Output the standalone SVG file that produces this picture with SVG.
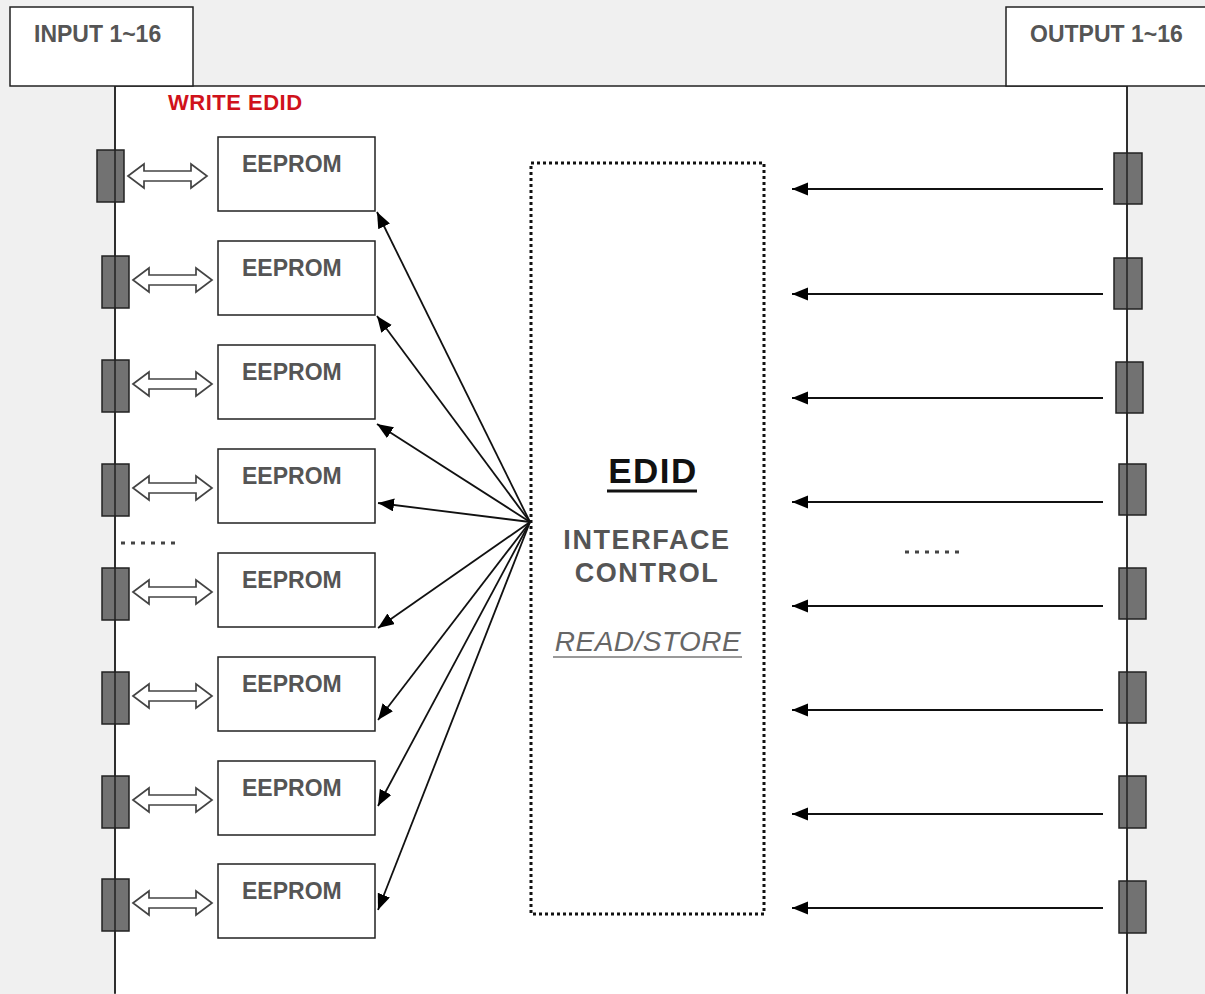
<svg xmlns="http://www.w3.org/2000/svg" width="1205" height="994" viewBox="0 0 1205 994">
<style>
.box{fill:#fff;stroke:#222;stroke-width:1.5}
.port{fill:#727272;stroke:#222;stroke-width:1.5}
.lbl{font-family:"Liberation Sans",Arial,sans-serif;font-weight:bold;fill:#555}
.eep{font-family:"Liberation Sans",Arial,sans-serif;font-weight:bold;fill:#555;font-size:23px}
.dbl{fill:#fff;stroke:#444;stroke-width:1.7}
.con{stroke:#111;stroke-width:1.8;fill:none}
</style>
<defs>
<marker id="ah" markerUnits="userSpaceOnUse" markerWidth="17" markerHeight="14" refX="16" refY="6.5" orient="auto">
<path d="M0,0 L16,6.5 L0,13 Z" fill="#000"/>
</marker>
<path id="dbla" d="M0,0 L16,-12 L16,-5 L63,-5 L63,-12 L79,0 L63,12 L63,5 L16,5 L16,12 Z"/>
</defs>
<rect x="0" y="0" width="1205" height="994" fill="#f0f0f0"/>
<rect id="main" x="115" y="86" width="1012" height="920" fill="#fff" stroke="#222" stroke-width="1.5"/>
<g id="input-box"><rect class="box" x="10" y="7" width="183" height="79"/><text class="lbl" x="34" y="42" font-size="23">INPUT 1~16</text></g>
<g id="output-box"><rect class="box" x="1006" y="7" width="210" height="79"/><text class="lbl" x="1030" y="42" font-size="23">OUTPUT 1~16</text></g>
<text id="write-edid" x="168" y="110" font-family="Liberation Sans, Arial, sans-serif" font-weight="bold" font-size="22" letter-spacing="0.5" fill="#d0121b">WRITE EDID</text>

<g id="eeproms">
<g id="e1"><rect class="box" x="218" y="137" width="157" height="74"/><text class="eep" x="242" y="172">EEPROM</text></g>
<g id="e2"><rect class="box" x="218" y="241" width="157" height="74"/><text class="eep" x="242" y="276">EEPROM</text></g>
<g id="e3"><rect class="box" x="218" y="345" width="157" height="74"/><text class="eep" x="242" y="380">EEPROM</text></g>
<g id="e4"><rect class="box" x="218" y="449" width="157" height="74"/><text class="eep" x="242" y="484">EEPROM</text></g>
<g id="e5"><rect class="box" x="218" y="553" width="157" height="74"/><text class="eep" x="242" y="588">EEPROM</text></g>
<g id="e6"><rect class="box" x="218" y="657" width="157" height="74"/><text class="eep" x="242" y="692">EEPROM</text></g>
<g id="e7"><rect class="box" x="218" y="761" width="157" height="74"/><text class="eep" x="242" y="796">EEPROM</text></g>
<g id="e8"><rect class="box" x="218" y="864" width="157" height="74"/><text class="eep" x="242" y="899">EEPROM</text></g>
</g>

<g id="input-ports">
<rect class="port" x="97" y="150" width="27" height="52"/>
<rect class="port" x="102" y="256" width="27" height="52"/>
<rect class="port" x="102" y="360" width="27" height="52"/>
<rect class="port" x="102" y="464" width="27" height="52"/>
<rect class="port" x="102" y="568" width="27" height="52"/>
<rect class="port" x="102" y="672" width="27" height="52"/>
<rect class="port" x="102" y="776" width="27" height="52"/>
<rect class="port" x="102" y="879" width="27" height="52"/>
<line x1="115" y1="86" x2="115" y2="993" stroke="#222" stroke-width="1.5"/>
</g>

<g id="output-ports">
<rect class="port" x="1114" y="153" width="28" height="51"/>
<rect class="port" x="1114" y="258" width="28" height="51"/>
<rect class="port" x="1116" y="362" width="27" height="51"/>
<rect class="port" x="1119" y="464" width="27" height="51"/>
<rect class="port" x="1119" y="568" width="27" height="51"/>
<rect class="port" x="1119" y="672" width="27" height="51"/>
<rect class="port" x="1119" y="776" width="27" height="52"/>
<rect class="port" x="1119" y="881" width="27" height="52"/>
<line x1="1127" y1="86" x2="1127" y2="993" stroke="#222" stroke-width="1.5"/>
</g>

<g id="edid-control">
<rect x="531" y="163" width="233" height="751" fill="none" stroke="#111" stroke-width="3" stroke-dasharray="3 3"/>
<text x="653" y="483" text-anchor="middle" font-family="Liberation Sans, Arial, sans-serif" font-weight="bold" font-size="35" letter-spacing="1.5" fill="#111">EDID</text>
<line x1="607" y1="491" x2="697" y2="491" stroke="#111" stroke-width="3"/>
<text x="647" y="549" text-anchor="middle" font-family="Liberation Sans, Arial, sans-serif" font-weight="bold" font-size="27" letter-spacing="1.6" fill="#555">INTERFACE</text>
<text x="647" y="582" text-anchor="middle" font-family="Liberation Sans, Arial, sans-serif" font-weight="bold" font-size="27" letter-spacing="1.6" fill="#555">CONTROL</text>
<text x="648" y="651" text-anchor="middle" font-family="Liberation Sans, Arial, sans-serif" font-style="italic" font-size="28" letter-spacing="0.5" fill="#666">READ/STORE</text>
<line x1="553" y1="657" x2="742" y2="657" stroke="#777" stroke-width="1.5"/>
</g>

<g id="connectors">
<use href="#dbla" class="dbl" x="128" y="176"/>
<use href="#dbla" class="dbl" x="133" y="280"/>
<use href="#dbla" class="dbl" x="133" y="384"/>
<use href="#dbla" class="dbl" x="133" y="488"/>
<use href="#dbla" class="dbl" x="133" y="592"/>
<use href="#dbla" class="dbl" x="133" y="696"/>
<use href="#dbla" class="dbl" x="133" y="800"/>
<use href="#dbla" class="dbl" x="133" y="903"/>
<line class="con" x1="530" y1="522" x2="377" y2="212" marker-end="url(#ah)"/>
<line class="con" x1="530" y1="522" x2="377" y2="316" marker-end="url(#ah)"/>
<line class="con" x1="530" y1="522" x2="377" y2="424" marker-end="url(#ah)"/>
<line class="con" x1="530" y1="522" x2="378" y2="503" marker-end="url(#ah)"/>
<line class="con" x1="530" y1="522" x2="378" y2="628" marker-end="url(#ah)"/>
<line class="con" x1="530" y1="522" x2="378" y2="720" marker-end="url(#ah)"/>
<line class="con" x1="530" y1="522" x2="378" y2="806" marker-end="url(#ah)"/>
<line class="con" x1="530" y1="522" x2="378" y2="910" marker-end="url(#ah)"/>
<line class="con" x1="1103" y1="189" x2="792" y2="189" marker-end="url(#ah)"/>
<line class="con" x1="1103" y1="294" x2="792" y2="294" marker-end="url(#ah)"/>
<line class="con" x1="1103" y1="398" x2="792" y2="398" marker-end="url(#ah)"/>
<line class="con" x1="1103" y1="502" x2="792" y2="502" marker-end="url(#ah)"/>
<line class="con" x1="1103" y1="606" x2="792" y2="606" marker-end="url(#ah)"/>
<line class="con" x1="1103" y1="710" x2="792" y2="710" marker-end="url(#ah)"/>
<line class="con" x1="1103" y1="814" x2="792" y2="814" marker-end="url(#ah)"/>
<line class="con" x1="1103" y1="908" x2="792" y2="908" marker-end="url(#ah)"/>
</g>
<line x1="121" y1="543" x2="179" y2="543" stroke="#444" stroke-width="3" stroke-dasharray="4 6"/>
<line x1="905" y1="552" x2="963" y2="552" stroke="#444" stroke-width="3" stroke-dasharray="4 6"/>
</svg>
